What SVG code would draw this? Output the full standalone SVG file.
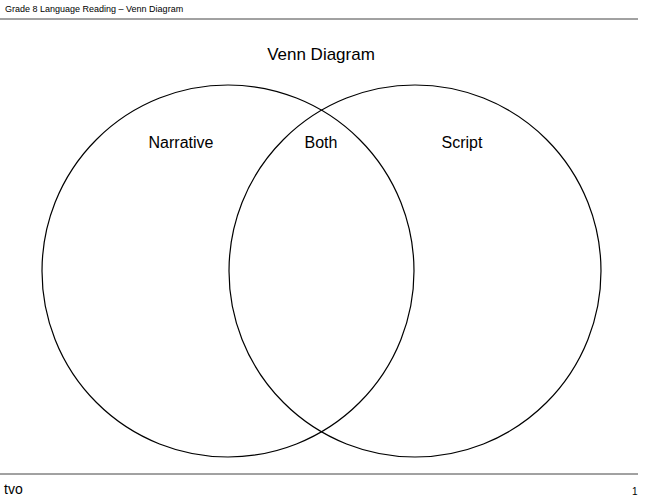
<svg xmlns="http://www.w3.org/2000/svg" width="648" height="500" viewBox="0 0 648 500">
<style>
.t{font-family:"Liberation Sans",Arial,sans-serif;fill:#000}
.c{fill:none;stroke:#000;stroke-width:1.2}
.l{stroke:#444;stroke-width:1}
</style>
<rect width="648" height="500" fill="#fff"/>
<g id="header">
<text class="t" x="5" y="12" font-size="9">Grade 8 Language Reading – Venn Diagram</text>
<line class="l" x1="0" y1="19" x2="638" y2="19"/>
</g>
<g id="footer">
<line class="l" x1="0" y1="474" x2="638" y2="474"/>
<text class="t" x="4" y="494" font-size="14">tvo</text>
<text class="t" x="632" y="495" font-size="10">1</text>
</g>
<text class="t" x="321" y="60" font-size="17" text-anchor="middle">Venn Diagram</text>
<g id="left"><circle class="c" cx="228" cy="271" r="186"/>
<text class="t" x="181" y="148" font-size="16" text-anchor="middle">Narrative</text></g>
<g id="right"><circle class="c" cx="415" cy="271" r="186"/>
<text class="t" x="462" y="148" font-size="16" text-anchor="middle">Script</text></g>
<g id="both"><text class="t" x="321" y="148" font-size="16" text-anchor="middle">Both</text></g>
<g id="connectors"/>
</svg>
